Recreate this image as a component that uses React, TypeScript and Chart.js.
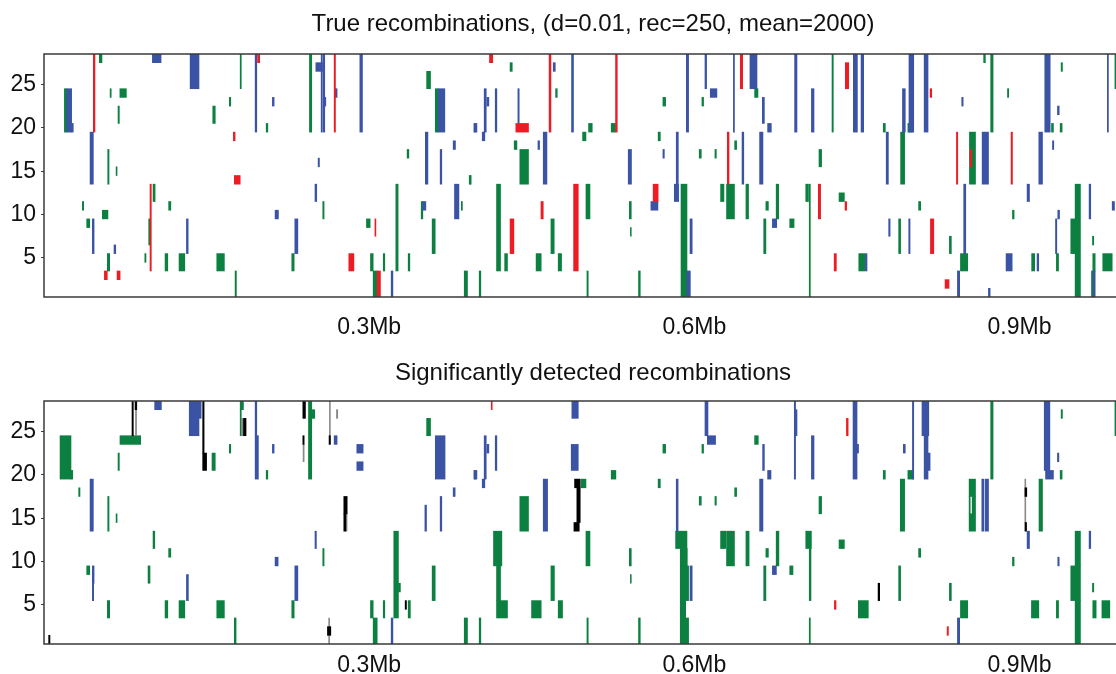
import React, { useEffect, useRef } from 'react';
import { Chart, registerables } from 'chart.js';
Chart.register(...registerables);

type Rect = [number, number, number, number]; // [startKb, endKb, firstRow, lastRow]

const xTickValues = [300, 600, 900];
const xTickLabels = ['0.3Mb', '0.6Mb', '0.9Mb'];
const yTickValues = [5, 10, 15, 20, 25];

const trueTitle = 'True recombinations, (d=0.01, rec=250, mean=2000)';
const detTitle = 'Significantly detected recombinations';

const trueRed: Rect[] = [
  [45.5, 47, 20, 28], [197, 199, 28, 28], [174.7, 176.3, 19, 19], [175.6, 181, 14, 14],
  [97.8, 99, 4, 13], [55.7, 58.4, 3, 3], [67.4, 70.2, 3, 3], [267.7, 268.9, 20, 28],
  [305.3, 306.2, 8, 9], [281.2, 285.9, 4, 5], [307.4, 310.4, 1, 3], [411, 414, 28, 28],
  [466, 467.7, 20, 28], [527.3, 528.9, 20, 28], [435.3, 447, 20, 20], [488.6, 492.9, 4, 13],
  [562, 566.6, 12, 13], [458.5, 460.6, 10, 11], [430, 433.5, 6, 9], [642.4, 644.6, 25, 28],
  [739.3, 742.4, 25, 27], [630.4, 632, 14, 19], [714.4, 716.5, 10, 13], [739, 740.5, 11, 11],
  [729, 731, 4, 5], [817.5, 819, 24, 24], [841.8, 843, 14, 19], [854.4, 855.9, 16, 17],
  [892.2, 893.5, 14, 19], [817.8, 820.9, 6, 9], [831.3, 835, 2, 2],
];

const trueBlue: Rect[] = [
  [100, 108, 28, 28], [134.8, 143, 25, 28], [21, 25.5, 20, 24], [25.5, 27, 20, 20],
  [194.8, 196.3, 20, 28], [42.5, 45.5, 14, 19], [44.6, 46.2, 6, 9], [64.6, 66.2, 6, 6],
  [131.4, 133, 6, 9], [255.7, 256.8, 20, 28], [257.6, 259, 20, 28], [250.8, 256.9, 27, 27],
  [268.6, 270.4, 24, 24], [291.4, 293.8, 20, 28], [210.7, 212.3, 23, 23], [258, 260, 23, 23],
  [363.7, 369.8, 20, 24], [396.6, 398, 20, 20], [351.8, 354.2, 14, 19], [377.5, 379.6, 18, 18],
  [365.5, 367, 14, 17], [252.9, 254.1, 16, 16], [250, 251.6, 12, 13], [378.7, 382.8, 10, 13],
  [349.5, 352.3, 11, 11], [213.2, 216.3, 10, 10], [231.4, 234.2, 6, 9], [320.3, 321.9, 1, 3],
  [469.8, 471.7, 27, 27], [486.7, 488.5, 20, 28], [592.6, 594.7, 20, 28], [406.1, 408, 20, 24],
  [408.6, 410.4, 23, 23], [416.3, 417.8, 20, 24], [437.2, 438.4, 21, 24], [397.2, 399.4, 20, 20],
  [404.3, 406.7, 19, 19], [583.3, 585.2, 14, 19], [581.5, 585.5, 12, 13], [455.7, 457.2, 18, 18],
  [460.6, 464, 14, 19], [539, 542, 14, 17], [571, 572.3, 17, 17], [559.9, 566.4, 11, 11],
  [593.2, 596.3, 1, 3], [609.8, 611.3, 25, 28], [636, 637, 20, 28], [651.3, 657.8, 25, 28],
  [614.7, 620.8, 24, 24], [662.7, 664.6, 21, 23], [667.6, 671, 20, 20], [692.5, 694.7, 20, 28],
  [708, 710.4, 20, 24], [746.7, 750.4, 20, 28], [753.8, 756.2, 20, 28], [792, 794.6, 20, 24],
  [644, 645.6, 14, 19], [660.2, 663.3, 14, 19], [777, 779, 14, 19], [596, 598, 6, 9],
  [672, 676, 9, 9], [779.3, 780.6, 8, 9], [757.8, 759.3, 4, 5], [798, 802.4, 20, 28],
  [812, 815.6, 20, 28], [846.7, 848, 23, 23], [923.3, 928.3, 20, 28], [935, 936.6, 22, 22],
  [981, 982, 20, 28], [865.5, 871.4, 14, 19], [917.8, 921.2, 14, 19], [930.4, 931.6, 18, 18],
  [848.5, 850.4, 6, 13], [907, 909.2, 12, 13], [964.2, 965.7, 10, 13], [985.5, 987.6, 11, 11],
  [935.3, 936.9, 10, 10], [797.8, 799, 6, 9], [933.2, 934.4, 6, 9], [887.6, 893.2, 4, 5],
  [916.2, 917.7, 4, 5], [842.7, 844.8, 1, 3], [871.3, 872.9, 1, 1], [968, 969.8, 1, 3],
];

const trueGreen: Rect[] = [
  [18.8, 21, 20, 24], [51, 53.5, 28, 28], [181, 182, 25, 28], [61, 62, 24, 24],
  [70, 76, 24, 24], [68.3, 69.5, 21, 22], [155.7, 158, 21, 22], [171, 172.3, 23, 23],
  [58.8, 60, 14, 17], [66.5, 67.4, 15, 15], [100.6, 102.5, 12, 13], [35.4, 36.6, 11, 11],
  [115, 117, 11, 11], [53.8, 59, 10, 10], [39.4, 42.2, 9, 9], [96.6, 97.8, 7, 9],
  [58.4, 60.6, 4, 5], [93, 94.1, 5, 5], [111.7, 114.2, 4, 5], [124.6, 129.9, 4, 5],
  [159.4, 166.4, 4, 5], [176.3, 177.5, 1, 3], [244.9, 247, 20, 28], [205, 206.5, 20, 20],
  [353, 356.6, 25, 26], [361, 363.7, 20, 24], [335, 336.6, 17, 17], [257.2, 258.4, 10, 11],
  [324.6, 326.7, 4, 13], [392.3, 393.5, 14, 14], [385, 386, 11, 11], [348, 349.5, 10, 11],
  [297.5, 300.9, 9, 9], [358.1, 360.9, 6, 9], [228.6, 230.8, 4, 5], [301.2, 303.7, 4, 5],
  [313, 314.4, 4, 5], [336, 337.5, 4, 5], [303.7, 307.4, 1, 3], [387.7, 390.7, 1, 3],
  [430, 432, 27, 27], [472, 473.5, 24, 24], [502.4, 505.8, 20, 20], [523.3, 527.3, 20, 20],
  [571, 573.5, 23, 23], [496.9, 500, 19, 19], [566.6, 568.6, 19, 19], [433.8, 436.3, 18, 18],
  [439, 447, 14, 17], [393.2, 394.1, 14, 14], [417.5, 421.2, 4, 13], [500, 503.7, 10, 13],
  [587.7, 593.2, 1, 13], [540, 541.8, 10, 11], [541, 541.8, 8, 8], [467.7, 470.7, 6, 9],
  [425, 427.6, 4, 5], [454, 458.7, 4, 5], [474.4, 477.5, 4, 5], [401.5, 403, 1, 3],
  [500.9, 502.1, 1, 3], [548.5, 550.1, 1, 3], [655.6, 658.7, 24, 24], [607, 608.5, 23, 23],
  [727, 728.2, 20, 28], [774.3, 776.2, 20, 20], [637.2, 639, 18, 18], [604.5, 606.4, 17, 17],
  [619, 620.3, 17, 17], [715, 717.4, 16, 17], [790.3, 794, 14, 19], [624.2, 627.3, 12, 13],
  [629.7, 637, 10, 13], [647.6, 650, 10, 13], [666, 668.3, 11, 11], [675.5, 677.8, 10, 13],
  [702.8, 705.3, 12, 13], [706, 707, 1, 13], [733.5, 738.4, 12, 12], [664, 666, 6, 9],
  [688, 692, 9, 9], [788.5, 790.3, 6, 9], [751.7, 757.2, 4, 5], [797, 801, 20, 20],
  [866.9, 868.5, 28, 28], [873.4, 875.6, 20, 28], [888.9, 890, 24, 24], [938.4, 939.6, 27, 27],
  [929.5, 931.3, 20, 20], [937.5, 939.3, 20, 20], [988, 989.5, 25, 28], [853.8, 859.4, 14, 19],
  [951.3, 956.2, 1, 13], [947.3, 951.3, 6, 9], [806.9, 808.8, 11, 11], [893.5, 895, 10, 10],
  [835.3, 837.1, 6, 7], [967.3, 968.5, 7, 7], [845.5, 852.2, 4, 5], [911.2, 914, 4, 5],
  [934, 936, 4, 5], [967.6, 969.8, 4, 5], [976.8, 985.5, 4, 5], [966.4, 968, 1, 3],
];

const detBlack: Rect[] = [
  [81.2, 82.4, 25, 28], [84, 85.6, 28, 28], [146.4, 147.7, 23, 28], [146.4, 150, 21, 22],
  [184, 186.4, 25, 26], [4.3, 5.5, 1, 1], [238.8, 241.2, 27, 28], [238.8, 240, 24, 24],
  [263, 264.3, 24, 24], [276.6, 279.7, 16, 17], [276.6, 278.5, 14, 15], [333.2, 334.4, 5, 5],
  [261.5, 264.6, 2, 2], [489.5, 494.7, 19, 19], [491.6, 494.7, 15, 18], [488.9, 493.8, 14, 14],
  [769.5, 771, 6, 7], [905, 906.7, 18, 18], [905, 906.5, 14, 14],
];

const detGray: Rect[] = [
  [84.4, 85.4, 25, 27], [182.2, 183.3, 25, 26], [239, 240, 22, 23], [263.3, 264.2, 25, 28],
  [269.8, 271, 27, 27], [278.5, 279.6, 14, 15], [262.6, 263.5, 1, 3], [904.9, 905.8, 15, 19],
];

const detRed: Rect[] = [
  [412.6, 413.5, 28, 28], [740.3, 741.9, 25, 26], [729.2, 730.7, 5, 5], [833.2, 834.4, 2, 2],
];

const detBlue: Rect[] = [
  [102.1, 108.3, 28, 28], [134, 143, 25, 28], [143, 145, 27, 28], [194.8, 196.3, 25, 28],
  [194.8, 197.8, 20, 24], [42.5, 45.5, 14, 19], [44.6, 46.2, 8, 9], [44.6, 45.8, 6, 7],
  [131.4, 133.2, 6, 8], [267.7, 270.4, 24, 24], [288.6, 294.4, 23, 23], [288.6, 294.4, 21, 21],
  [210.7, 212.3, 23, 23], [361, 370, 20, 24], [396.6, 398, 20, 20], [377.5, 379.3, 18, 18],
  [351.4, 352.9, 14, 16], [365.5, 367, 14, 17], [250, 251.3, 12, 13], [213.2, 216, 10, 10],
  [231.4, 234.2, 6, 9], [320.3, 321.9, 1, 3], [487, 492.9, 27, 28], [406.1, 408, 20, 24],
  [408.6, 410.4, 23, 23], [416.3, 417.8, 21, 24], [486.4, 492.9, 21, 23], [397.2, 399.4, 20, 20],
  [404.3, 406.7, 19, 19], [460.6, 464.6, 14, 19], [583.3, 585, 14, 19], [609.8, 612.6, 25, 28],
  [612, 619.6, 24, 24], [663, 664.6, 21, 23], [667.6, 670.7, 20, 20], [692.2, 693.4, 20, 28],
  [692.8, 694.7, 25, 27], [708, 710.4, 20, 24], [746.4, 750.1, 20, 28], [750.1, 751.5, 23, 23],
  [792.8, 794.6, 23, 23], [660.2, 663.3, 14, 19], [596, 598, 6, 9], [672, 675.7, 9, 9],
  [801.2, 802.4, 20, 28], [810, 816.3, 25, 28], [812, 815.6, 23, 24], [812, 817.5, 21, 22],
  [812, 815.6, 20, 20], [922.8, 928, 21, 28], [924, 931.3, 20, 20], [935, 936.3, 22, 22],
  [865.2, 867.1, 14, 19], [868.3, 871.4, 14, 19], [907, 909.2, 12, 13], [964.2, 965.7, 12, 13],
  [935.3, 936.6, 10, 10], [842.7, 844.8, 1, 3],
];

const detGreen: Rect[] = [
  [14.8, 24.9, 20, 24], [24.9, 26.5, 20, 20], [70.1, 89.2, 24, 24], [68.3, 69.5, 21, 22],
  [171, 172.3, 23, 23], [155, 158, 21, 22], [181, 184, 28, 28], [181, 182, 25, 27],
  [32, 33.2, 18, 18], [58.8, 60, 14, 17], [66.5, 67.4, 15, 15], [100.6, 102.2, 12, 13],
  [115, 117, 11, 11], [39.4, 42.2, 9, 9], [96, 97.8, 8, 9], [58.4, 60.6, 4, 5],
  [111.7, 114.2, 4, 5], [124.6, 129.9, 4, 5], [159.4, 166.4, 4, 5], [175.6, 177.2, 1, 3],
  [244, 247, 20, 28], [247, 249.8, 27, 27], [205, 206.5, 20, 20], [353, 356.6, 25, 26],
  [257.2, 258.4, 10, 11], [322.7, 327, 4, 13], [327, 328.8, 7, 7], [358.1, 360.9, 6, 9],
  [228.6, 230.8, 4, 5], [301.2, 303.7, 4, 5], [313, 314.4, 4, 5], [336, 338, 4, 5],
  [303.7, 307.4, 1, 3], [387.7, 390.7, 1, 3], [571, 573.5, 23, 23], [523.3, 527.6, 20, 20],
  [495.6, 500, 19, 19], [566.6, 568.6, 19, 19], [439, 447, 14, 17], [414.7, 422.4, 10, 13],
  [417.5, 421.2, 6, 9], [417.5, 427.6, 4, 5], [500, 503.7, 10, 13], [540, 541.8, 10, 11],
  [541, 541.8, 8, 8], [467.7, 470.9, 6, 9], [449.8, 458.7, 4, 5], [474.4, 478.4, 4, 5],
  [582.7, 593.2, 12, 13], [587, 593.5, 10, 11], [587, 594.7, 6, 9], [587, 592, 4, 5],
  [587, 594.7, 1, 3], [401.5, 403, 1, 3], [500.9, 502.1, 1, 3], [548.5, 550.1, 1, 3],
  [607, 608.5, 23, 23], [655.6, 659, 24, 24], [774.3, 776.2, 20, 20], [637.2, 639, 18, 18],
  [604.5, 606.4, 17, 17], [619, 620.3, 17, 17], [715, 717.4, 16, 17], [790, 794, 14, 19],
  [624.2, 629, 12, 13], [629.7, 637, 10, 13], [647.6, 650.5, 10, 13], [666, 668.3, 11, 11],
  [675.5, 678, 10, 13], [702.8, 708, 12, 13], [706, 707.6, 6, 11], [706, 707, 1, 3],
  [733.5, 738.4, 12, 12], [664, 666, 6, 9], [688, 691, 9, 9], [788.5, 790.3, 6, 9],
  [751.3, 760.5, 4, 5], [797, 802, 20, 20], [873.4, 875.6, 20, 28], [938.4, 939.6, 27, 27],
  [937.5, 939.3, 20, 20], [988, 989.5, 25, 28], [853.5, 859.4, 18, 19], [853.5, 854.5, 16, 17],
  [856.3, 859.4, 16, 17], [853.5, 859.4, 14, 15], [918, 921.2, 14, 19], [951.3, 956.2, 10, 13],
  [947.3, 956.2, 6, 9], [951.3, 956.2, 1, 5], [806.9, 808.8, 11, 11], [893.5, 895, 10, 10],
  [835.3, 837.1, 6, 7], [967.3, 968.5, 7, 7], [845.5, 852.2, 4, 5], [911, 917.8, 4, 5],
  [934, 936, 4, 5], [967.6, 970.7, 4, 5], [976, 983.3, 4, 5],
];

const RED = '#ED1C24';
const BLUE = '#3A53A4';
const GREEN = '#0B8040';
const BLACK = '#000000';
const GRAY = '#8a8a8a';
const AXIS = '#3a3a3a';
const FONT = "'Liberation Sans', Arial, sans-serif";

type Layer = { rects: Rect[]; color: string };

// One dataset per (colour, number of rows spanned); each rectangle is one floating bar
// centred on the middle of its row span, with a thickness of span × row pitch.
function buildDatasets(layers: Layer[]) {
  const out: any[] = [];
  layers.forEach((l, li) => {
    const bySpan = new Map<number, { x: [number, number]; y: number }[]>();
    for (const [x0, x1, r0, r1] of l.rects) {
      const k = r1 - r0 + 1;
      if (!bySpan.has(k)) bySpan.set(k, []);
      bySpan.get(k)!.push({ x: [x0, x1], y: (r0 + r1) / 2 });
    }
    bySpan.forEach((data, k) => {
      out.push({
        data,
        rowSpan: k,
        order: li,
        backgroundColor: l.color,
        borderWidth: 0,
        grouped: false,
        barThickness: k * 8.68,
      });
    });
  });
  return out;
}

const framePlugin = {
  id: 'frame',
  afterDraw(chart: any) {
    const { ctx, chartArea: a } = chart;
    ctx.save();
    ctx.strokeStyle = AXIS;
    ctx.lineWidth = 1.5;
    ctx.beginPath();
    ctx.moveTo(a.right + 20, a.top);
    ctx.lineTo(a.left, a.top);
    ctx.lineTo(a.left, a.bottom);
    ctx.lineTo(a.right + 20, a.bottom);
    ctx.stroke();
    ctx.restore();
  },
};

function Panel(props: {
  title: string;
  layers: Layer[];
  top: number;
  titlePadTop: number;
  titlePadBottom: number;
  labelPad: number;
}) {
  const ref = useRef<HTMLCanvasElement>(null);
  useEffect(() => {
    if (!ref.current) return;
    const font = { family: FONT, size: 23 };
    const chart = new Chart(ref.current, {
      type: 'bar',
      data: { datasets: buildDatasets(props.layers) },
      options: {
        responsive: false,
        animation: false,
        events: [],
        indexAxis: 'y',
        layout: { padding: { left: 0, right: 8, top: 0, bottom: 0 } },
        plugins: {
          legend: { display: false },
          tooltip: { enabled: false },
          title: {
            display: true,
            text: props.title,
            fullSize: false,
            color: '#111',
            font: { family: FONT, size: 24, weight: 'normal' },
            padding: { top: props.titlePadTop, bottom: props.titlePadBottom },
          },
        },
        scales: {
          x: {
            type: 'linear',
            min: 0,
            max: 1013,
            offset: false,
            grid: { display: false },
            border: { display: false },
            afterBuildTicks: (s: any) => {
              s.ticks = xTickValues.map((v) => ({ value: v }));
            },
            afterFit: (s: any) => {
              s.height = 48;
            },
            ticks: {
              autoSkip: false,
              maxRotation: 0,
              padding: props.labelPad,
              color: '#111',
              font,
              callback: (_v: any, i: number) => xTickLabels[i],
            },
          },
          y: {
            type: 'linear',
            min: 0.5,
            max: 28.5,
            offset: false,
            grid: {
              display: true,
              offset: false,
              drawOnChartArea: false,
              drawTicks: true,
              tickLength: 3,
              color: AXIS,
            },
            border: { display: false },
            afterBuildTicks: (s: any) => {
              s.ticks = yTickValues.map((v) => ({ value: v }));
            },
            afterFit: (s: any) => {
              s.width = 44;
            },
            ticks: { padding: 5, color: '#111', font },
          },
        },
      } as any,
      plugins: [framePlugin],
    });
    const ys: any = chart.scales.y;
    const pitch = Math.abs(ys.getPixelForValue(1) - ys.getPixelForValue(2));
    chart.data.datasets.forEach((ds: any) => {
      ds.barThickness = ds.rowSpan * pitch;
    });
    chart.update('none');
    return () => chart.destroy();
  }, []);
  return (
    <canvas
      ref={ref}
      width={1150}
      height={345}
      style={{ position: 'absolute', left: 0, top: props.top, width: 1150, height: 345 }}
    />
  );
}

export default function App() {
  return (
    <div
      style={{
        position: 'fixed',
        left: 0,
        top: 0,
        width: 1116,
        height: 674,
        overflow: 'hidden',
        background: '#fff',
      }}
    >
      <Panel
        title={trueTitle}
        top={0}
        titlePadTop={10}
        titlePadBottom={15.2}
        labelPad={9}
        layers={[
          { rects: trueRed, color: RED },
          { rects: trueBlue, color: BLUE },
          { rects: trueGreen, color: GREEN },
        ]}
      />
      <Panel
        title={detTitle}
        top={347}
        titlePadTop={11.6}
        titlePadBottom={13.6}
        labelPad={0}
        layers={[
          { rects: detBlack, color: BLACK },
          { rects: detGray, color: GRAY },
          { rects: detRed, color: RED },
          { rects: detBlue, color: BLUE },
          { rects: detGreen, color: GREEN },
        ]}
      />
    </div>
  );
}
